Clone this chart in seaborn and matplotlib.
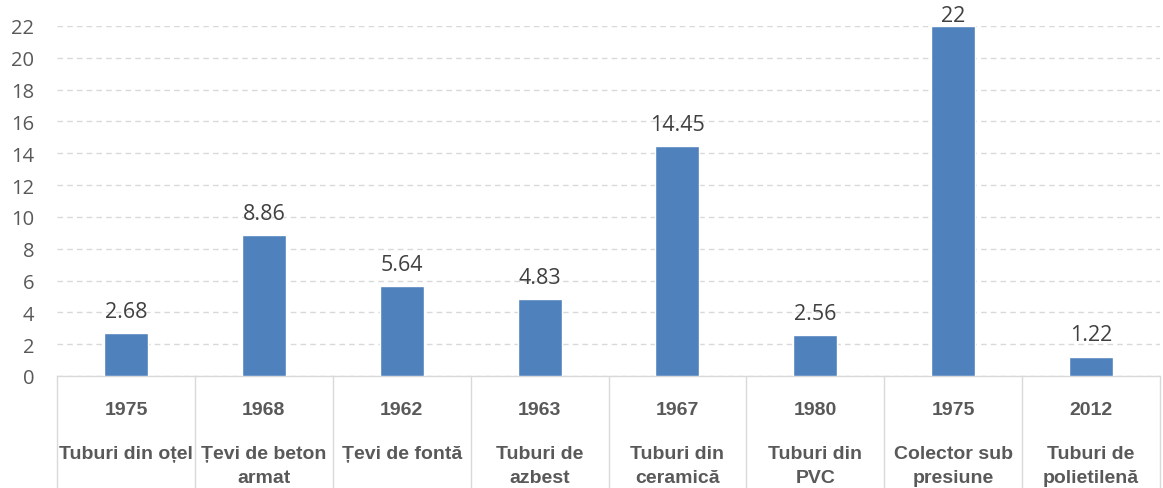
import matplotlib
matplotlib.use("Agg")
import matplotlib.pyplot as plt
from matplotlib import font_manager as fm
import seaborn as sns
import pandas as pd

years = ["1975", "1968", "1962", "1963", "1967", "1980", "1975", "2012"]
names = ["Tuburi din oțel", "Țevi de beton\narmat", "Țevi de fontă", "Tuburi de\nazbest",
         "Tuburi din\nceramică", "Tuburi din\nPVC", "Colector sub\npresiune", "Tuburi de\npolietilenă"]
values = [2.68, 8.86, 5.64, 4.83, 14.45, 2.56, 22, 1.22]
value_labels = ["2.68", "8.86", "5.64", "4.83", "14.45", "2.56", "22", "1.22"]
yticks = list(range(0, 23, 2))

sns.set_theme(style="white")
plt.rcParams['font.family'] = ['Open Sans', 'DejaVu Sans']

avail = {f.name for f in fm.fontManager.ttflist}
if "Liberation Sans Narrow" in avail:
    cat_family, cat_size = ["Liberation Sans Narrow", "DejaVu Sans"], 16.5
else:
    cat_family, cat_size = ["Liberation Sans", "DejaVu Sans"], 14

df = pd.DataFrame({"cat": [f"{i}" for i in range(len(values))], "val": values})

fig = plt.figure(figsize=(11.63, 4.89), dpi=100)
ax = fig.add_axes([57/1163, 112/489, 1103/1163, 350/489])

sns.barplot(data=df, x="cat", y="val", color="#4F81BD", saturation=1, width=0.32, ax=ax, zorder=3)

ax.set_ylim(0, 22)
ax.set_xlim(-0.5, len(values) - 0.5)
ax.set_yticks(yticks)
ax.set_yticklabels([str(t) for t in yticks], fontsize=14.5, color="#595959")
ax.tick_params(axis="y", length=0, pad=16.5)
ax.set_xticks([])
ax.set_xlabel("")
ax.set_ylabel("")
ax.yaxis.grid(True, color="#D9D9D9", linestyle=(0, (4, 3)), linewidth=1, zorder=0)
for s in ["top", "right", "left"]:
    ax.spines[s].set_visible(False)
ax.spines["bottom"].set_color("#D9D9D9")
ax.spines["bottom"].set_linewidth(1)

pad = 8
anns = ax.bar_label(ax.containers[0], labels=value_labels, padding=pad, fontsize=15.5, color="#404040")

# keep labels inside the chart area (as the original chart does for the tallest bar)
fig.canvas.draw()
renderer = fig.canvas.get_renderer()
H = fig.bbox.height
for t in anns:
    bb = t.get_window_extent(renderer)
    over = bb.y1 - (H - 6)
    if over > 0:
        t.xyann = (0, pad - over * 72 / fig.dpi)

# multi-level category axis
trans = ax.get_xaxis_transform()
for b in range(len(values) + 1):
    ax.plot([b - 0.5, b - 0.5], [0, -0.4], transform=trans, color="#D9D9D9", lw=1, clip_on=False)
lab_font = dict(ha="center", va="baseline", fontsize=cat_size, fontweight="bold", color="#595959",
                family=cat_family)
for i, (yr, nm) in enumerate(zip(years, names)):
    ax.text(i, -0.1086, yr, transform=trans, **lab_font)
    for k, line in enumerate(nm.split("\n")):
        ax.text(i, -0.2343 - 0.0686 * k, line, transform=trans, **lab_font)

fig.savefig("out.png", dpi=100)
